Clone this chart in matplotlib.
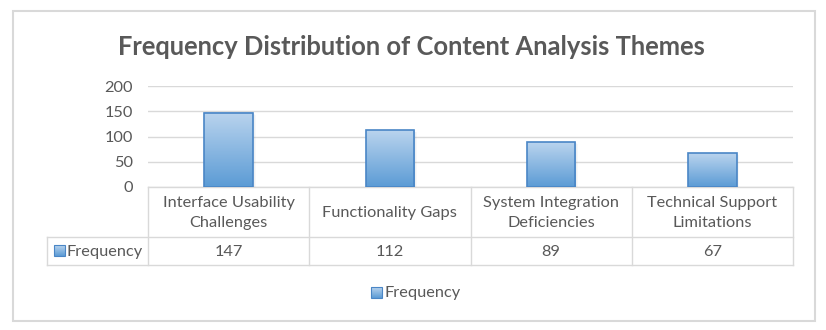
"""
Frequency distribution of content analysis themes, drawn Excel-style
with a data table under the bars.
"""

import matplotlib

matplotlib.use("Agg")
import matplotlib.pyplot as plt
import matplotlib.transforms as mtransforms
from matplotlib.colors import LinearSegmentedColormap
from matplotlib.patches import Rectangle
import numpy as np

themes = [
    "Interface Usability\nChallenges",
    "Functionality Gaps",
    "System Integration\nDeficiencies",
    "Technical Support\nLimitations",
]
frequency = [147, 112, 89, 67]
series_name = "Frequency"
title = "Frequency Distribution of Content Analysis Themes"
yticks = [0, 50, 100, 150, 200]

W, H = 826, 330
TEXT = "#595959"
LINE = "#d9d9d9"
EDGE = "#4a86c6"
FS = 11.8
bar_cmap = LinearSegmentedColormap.from_list("bar", ["#5b9bd5", "#bad4ee"])

plt.rcParams["font.family"] = ["Lato", "DejaVu Sans"]

fig = plt.figure(figsize=(W / 100, H / 100), dpi=100)

# overlay in pixel units (y downwards) for the frame and table grid
over = fig.add_axes([0, 0, 1, 1], zorder=0)
over.set_xlim(0, W)
over.set_ylim(H, 0)
over.axis("off")

# plot area: x from 148 to 793 px, value 0 at y=187, 200 at y=86
left, right, y0, y200 = 148, 793, 187, 86
ax = fig.add_axes([left / W, (H - y0) / H, (right - left) / W, (y0 - y200) / H], zorder=1)
ax.patch.set_alpha(0)
xs = np.arange(len(themes))
bar_w = 0.3

ax.set_yticks(yticks)
ax.set_yticklabels([str(t) for t in yticks], color=TEXT, fontsize=FS)
ax.tick_params(axis="y", length=0, pad=11)
ax.set_xticks([])
for s in ax.spines.values():
    s.set_visible(False)
ax.grid(axis="y", color=LINE, linewidth=1)
ax.set_axisbelow(True)

grad = np.linspace(0, 1, 256).reshape(-1, 1)
for x, v in zip(xs, frequency):
    # soft drop shadow
    for k, a in enumerate([0.05, 0.04, 0.03]):
        d = 0.006 * (k + 1)
        ax.add_patch(Rectangle((x - bar_w / 2 + d, -1), bar_w, v + 1 - 1.2 * (k + 1),
                               facecolor="#1f3b5a", edgecolor="none", alpha=a, zorder=2))
    ax.imshow(grad, origin="lower", aspect="auto", cmap=bar_cmap,
              extent=(x - bar_w / 2, x + bar_w / 2, 0, v), zorder=3)
    ax.add_patch(Rectangle((x - bar_w / 2, 0), bar_w, v, facecolor="none",
                           edgecolor=EDGE, linewidth=1.2, zorder=4))
ax.set_xlim(-0.5, len(themes) - 0.5)
ax.set_ylim(0, 200)

# data table under the axis: x in category units, y in pixels
tbl = mtransforms.blended_transform_factory(ax.transData, over.transData)
row1, row2, row3 = 187, 237, 265
head_left = 47
for b in np.arange(len(themes) + 1) - 0.5:
    over.plot([b, b], [row1, row3], color=LINE, lw=1, transform=tbl, zorder=2)
over.plot([-0.5, len(themes) - 0.5], [row1, row1], color=LINE, lw=1, transform=tbl, zorder=2)
over.plot([head_left, right], [row2, row2], color=LINE, lw=1, zorder=2)
over.plot([head_left, right], [row3, row3], color=LINE, lw=1, zorder=2)
over.plot([head_left, head_left], [row2, row3], color=LINE, lw=1, zorder=2)

for x, name, v in zip(xs, themes, frequency):
    over.text(x, (row1 + row2) / 2 + 1, name, transform=tbl, ha="center", va="center",
              color=TEXT, fontsize=FS, linespacing=1.55)
    over.text(x, (row2 + row3) / 2 + 1, str(v), transform=tbl, ha="center", va="center",
              color=TEXT, fontsize=FS)


def legend_key(x, y):
    """Small gradient square used as the series key."""
    over.imshow(grad, origin="lower", aspect="auto", cmap=bar_cmap,
                extent=(x, x + 11, y + 11, y), zorder=3)
    over.add_patch(Rectangle((x, y), 11, 11, facecolor="none", edgecolor=EDGE,
                             linewidth=0.8, zorder=4))


legend_key(54, 245)
over.text(67, (row2 + row3) / 2 + 1, series_name, ha="left", va="center", color=TEXT, fontsize=FS)

legend_key(371, 287)
over.text(385, 293, series_name, ha="left", va="center", color=TEXT, fontsize=FS)

# outer chart frame
over.add_patch(Rectangle((13, 11), 802, 310, facecolor="none", edgecolor=LINE, linewidth=1.5, zorder=1))
over.set_xlim(0, W)
over.set_ylim(H, 0)

fig.text(411 / W, 1 - 47 / H, title, ha="center", va="center", color=TEXT,
         fontsize=18.4, fontweight="bold")

fig.savefig("out.png", dpi=100, facecolor="white")
